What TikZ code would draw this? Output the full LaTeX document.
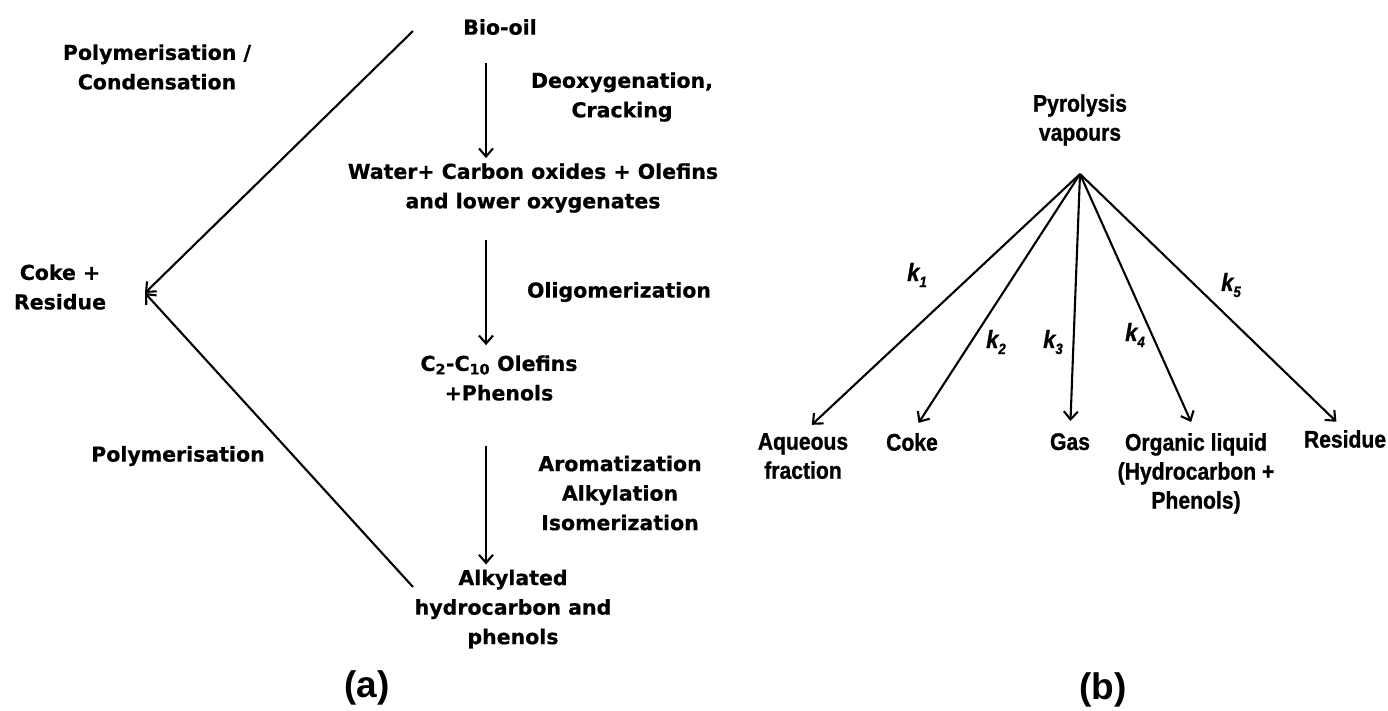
\documentclass[tikz,border=0pt]{standalone}
\usepackage{fontspec}
\setmainfont{DejaVu Sans}[BoldFeatures={FakeBold=0.6}]
\newfontfamily\narrowfont{Liberation Sans}[FakeStretch=0.88,
  BoldFont={Liberation Sans Bold},BoldItalicFont={Liberation Sans Bold Italic},
  BoldFeatures={FakeBold=1},BoldItalicFeatures={FakeBold=1}]
\newfontfamily\tagfont{Liberation Sans}
\newcommand{\ksub}[1]{\raisebox{-6pt}{\fontsize{15}{18}\selectfont #1}}
\usepackage{tikz}
\usetikzlibrary{arrows.meta,positioning}

\begin{document}
\begin{tikzpicture}[x=1pt,y=-1pt,
  arr/.style={line width=2.1pt,-{Straight Barb[length=8pt,width=14pt,line width=2.1pt]}},
  txt/.style={inner sep=0pt,align=center,font=\fontsize{20.5}{29.5}\selectfont\bfseries},
  ntxt/.style={inner sep=0pt,align=center,font=\narrowfont\fontsize{24}{29}\selectfont\bfseries},
  ktxt/.style={inner sep=0pt,font=\narrowfont\fontsize{25}{29}\selectfont\bfseries\itshape},
  tag/.style={inner sep=0pt,font=\tagfont\fontsize{37}{40}\selectfont\bfseries}]
  \useasboundingbox (0,0) rectangle (1388,710); % 与原图同样大小
  % (a) 生物油的转化路线
  \node[txt] (bio) at (500,27) {Bio-oil};
  \node[txt] (water) at (533,188) {Water+ Carbon oxides + Olefins\\and lower oxygenates};
  \node[txt] (olef) at (499,378) {C\textsubscript{2}-C\textsubscript{10} Olefins\\+Phenols};
  \node[txt] (alk) at (513,609) {Alkylated\\hydrocarbon and\\phenols};
  \node[txt] (deox) at (622,97) {Deoxygenation,\\Cracking};
  \node[txt] (olig) at (619,292) {Oligomerization};
  \node[txt] (arom) at (620,493) {Aromatization\\Alkylation\\Isomerization};
  \node[txt] (coke) at (60,287) {Coke +\\Residue};
  \node[txt] (poly1) at (157,67) {Polymerisation /\\Condensation};
  \node[txt] (poly2) at (178,456) {Polymerisation};
  \coordinate (axis) at (486,0);
  \draw[arr,shorten <=28pt,shorten >=5pt] (bio.south -| axis) -- (water.north -| axis);
  \draw[arr,shorten <=27pt,shorten >=10pt] (water.south -| axis) -- (olef.north -| axis);
  \draw[arr,shorten <=45pt,shorten >=5pt] (olef.south -| axis) -- (alk.north -| axis);
  \coordinate (top) at (413,31);
  \coordinate (bot) at (413,587);
  \coordinate (tip) at (145,293);
  \draw[arr] (top) -- (tip);
  \draw[arr] (bot) -- (tip);
  \node[tag] (taga) at (367,688) {(a)};
  % (b) 热解蒸气的分配
  \node[ntxt] (pyro) at (1080,120) {Pyrolysis\\vapours};
  \coordinate (apex) at (1080,174);
  \node[ntxt,anchor=north] (aq) at (803,433) {Aqueous\\fraction};
  \node[ntxt,anchor=north] (ck) at (912,433) {Coke};
  \node[ntxt,anchor=north] (gas) at (1070,433) {Gas};
  \node[ntxt,anchor=north] (org) at (1196,433) {Organic liquid\\(Hydrocarbon +\\Phenols)};
  \node[ntxt,anchor=north] (res) at (1345,430) {Residue};
  \foreach \n in {aq,ck,gas,org,res}
    \draw[arr,shorten >=12pt] (apex) -- (\n.north);
  \node[ktxt] (k1) at (917,275) {k\ksub{1}};
  \node[ktxt] (k2) at (996,342) {k\ksub{2}};
  \node[ktxt] (k3) at (1053,342) {k\ksub{3}};
  \node[ktxt] (k4) at (1135,335) {k\ksub{4}};
  \node[ktxt] (k5) at (1231,285) {k\ksub{5}};
  \node[tag] (tagb) at (1103,690) {(b)};
\end{tikzpicture}
\end{document}
